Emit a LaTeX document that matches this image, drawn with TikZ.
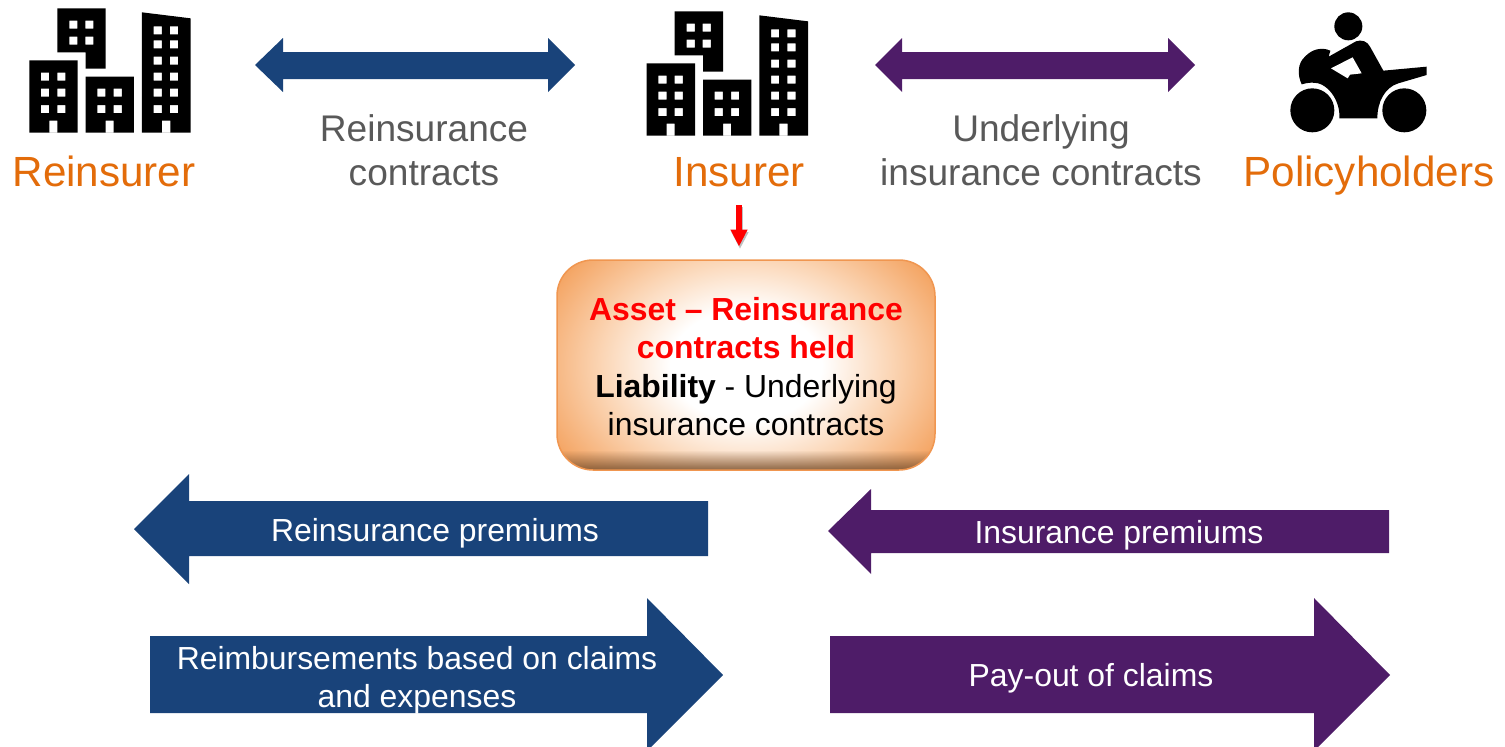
\documentclass[tikz,border=0pt]{standalone}
\usepackage{fontspec}
\setmainfont{Liberation Sans}
\usetikzlibrary{arrows.meta,fadings}
\definecolor{navy}{RGB}{25,67,122}
\definecolor{plum}{RGB}{78,28,104}
\definecolor{partyorange}{RGB}{227,108,10}
\definecolor{greytext}{RGB}{89,89,89}
\definecolor{glowa}{RGB}{251,214,182}
\definecolor{glowb}{RGB}{244,165,100}
\definecolor{boxedge}{RGB}{240,150,80}
\pgfdeclareradialshading{boxglow}{\pgfpoint{0bp}{0bp}}{color(0bp)=(white); color(10bp)=(white); color(19bp)=(glowa); color(29bp)=(glowb); color(50bp)=(glowb)}
\tikzfading[name=bevelfade,top color=transparent!100,bottom color=transparent!0]
\tikzset{
  party/.style={text=partyorange,font=\fontsize{42.2}{46}\selectfont,inner sep=0pt,anchor=base},
  relation/.style={text=greytext,font=\fontsize{37.1}{44}\selectfont,align=center,inner sep=0pt},
  flowlabel/.style={text=white,font=\fontsize{31.9}{38.5}\selectfont,align=center,inner sep=0pt},
  boxtext/.style={font=\fontsize{31.9}{38.4}\selectfont,align=center,inner sep=0pt},
  navyblock/.style={fill=navy,draw=none},
  plumblock/.style={fill=plum,draw=none},
  iconfill/.style={fill=black,draw=none,even odd rule},
}
\newcommand{\winrect}[2]{(#1,#2) rectangle ++(24.5,24)}
\newcommand{\buildingicon}[2]{%
  \begin{scope}[shift={(#1,#2)},x=0.33333pt,y=-0.33333pt]
    \fill[iconfill] (172,25) -- (317,25) -- (317,206) -- (257,206) -- (257,157) -- (172,157) -- cycle
      \winrect{208}{62} \winrect{256}{62} \winrect{208}{110} \winrect{256}{110};
    \fill[iconfill] (88,181) rectangle (233,398) (148,362) rectangle (172,398)
      \winrect{123}{218} \winrect{172}{218} \winrect{123}{266} \winrect{172}{266} \winrect{123}{315} \winrect{172}{315};
    \fill[iconfill] (257,230) rectangle (402,398) (317,362) rectangle (341,398)
      \winrect{292}{266} \winrect{341}{266} \winrect{292}{315} \winrect{341}{315};
    \fill[iconfill] (426,37) -- (572,55) -- (572,398) -- (426,398) -- cycle (486,362) rectangle (511,398)
      \winrect{461}{79} \winrect{510}{79} \winrect{461}{121} \winrect{510}{121}
      \winrect{461}{170} \winrect{510}{170} \winrect{461}{218} \winrect{510}{218}
      \winrect{461}{266} \winrect{510}{266} \winrect{461}{315} \winrect{510}{315};
  \end{scope}}
\begin{document}
\begin{tikzpicture}[x=1pt,y=-1pt]
\useasboundingbox (0,0) rectangle (1505,747);
\clip (0,0) rectangle (1505,747);

% icons
\buildingicon{0}{0}
\buildingicon{617.33}{3}
\begin{scope}[shift={(1270,0)},x=0.33333pt,y=-0.33333pt]
  \fill[black] (235,79) circle[radius=14pt];
  \fill[black] (127,331) circle[radius=22pt];
  \fill[black] (403,331) circle[radius=22pt];
  \fill[black] (95,253) .. controls (82,225) and (82,190) .. (105,170)
     .. controls (125,148) and (155,140) .. (181,152) -- (176,170) -- (258,124)
     .. controls (275,118) and (292,124) .. (300,140) -- (340,212) -- (470,200) -- (470,225) -- (385,250)
     .. controls (345,262) and (322,305) .. (322,355) -- (208,355)
     .. controls (212,300) and (170,245) .. (127,248) .. controls (115,248) and (105,250) .. (95,253) -- cycle;
  \fill[white] (183,205) -- (248,172) -- (275,220) -- (240,224) -- (233,235) -- cycle;
\end{scope}

% party labels
\node[party] (reinsurer) at (104,186) {Reinsurer};
\node[party] (insurer) at (739,186) {Insurer};
\node[party] (policyholders) at (1369,186) {Policyholders};
\node[relation] (reincontracts) at (424,150) {Reinsurance\\contracts};
\node[relation] (undercontracts) at (1041,150) {Underlying\\insurance contracts};

% double arrows
\fill[navyblock] (255,65) -- (283,38) -- (283,52) -- (548,52) -- (548,38) -- (575,65) -- (548,92) -- (548,79) -- (283,79) -- (283,92) -- cycle;
\fill[plumblock] (875,65) -- (902,38) -- (902,52) -- (1168,52) -- (1168,38) -- (1195,65) -- (1168,92) -- (1168,79) -- (902,79) -- (902,92) -- cycle;

% central box
\begin{scope}
  \clip[rounded corners=36pt] (557,260) rectangle (935,470);
  \shade[shading=boxglow] (557,225) rectangle (935,505);
  \fill[black!50!glowb,path fading=bevelfade,opacity=0.85] (540,450) rectangle (950,470);
\end{scope}
\draw[boxedge,line width=1.5pt,rounded corners=36pt] (557,260) rectangle (935,470);
\node[boxtext] (assetbox) at (746,366.5) {\textcolor{red}{\textbf{Asset – Reinsurance}}\\\textcolor{red}{\textbf{contracts held}}\\\textbf{Liability} - Underlying\\insurance contracts};

% red arrow
\coordinate (redstart) at (739,205);
\coordinate (redend) at (739,246.5);
\coordinate (shadowstart) at (740,207);
\coordinate (shadowend) at (740,249);
\draw[black,opacity=0.25,line width=6pt,-{Triangle[length=17pt,width=16pt]}] (shadowstart) -- (shadowend);
\draw[red,line width=6pt,-{Triangle[length=17pt,width=16pt]}] (redstart) -- (redend);

% flow arrows
\fill[navyblock] (134,529) -- (189,474) -- (189,501) -- (708,501) -- (708,556) -- (189,556) -- (189,584) -- cycle;
\node[flowlabel] (reinprem) at (435,533) {Reinsurance premiums};
\fill[plumblock] (828,531) -- (871,489) -- (871,510) -- (1389,510) -- (1389,553) -- (871,553) -- (871,574) -- cycle;
\node[flowlabel] (insprem) at (1119,535) {Insurance premiums};
\fill[navyblock] (150,636) -- (647,636) -- (647,598) -- (723,675) -- (647,751) -- (647,713) -- (150,713) -- cycle;
\node[flowlabel] (reimb) at (417,680) {Reimbursements based on claims\\and expenses};
\fill[plumblock] (830,636) -- (1314,636) -- (1314,598) -- (1390,675) -- (1314,751) -- (1314,713) -- (830,713) -- cycle;
\node[flowlabel] (payout) at (1091,678) {Pay-out of claims};
\end{tikzpicture}
\end{document}
